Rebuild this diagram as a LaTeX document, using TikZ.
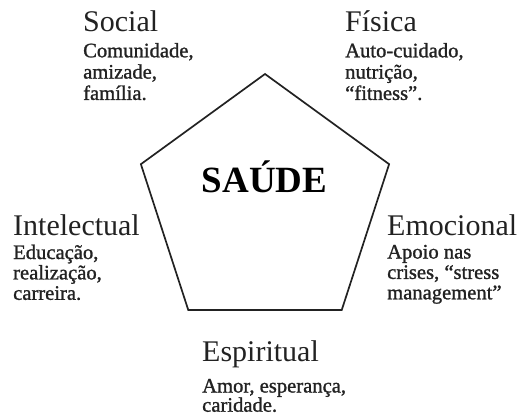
\documentclass[tikz,border=0pt]{standalone}
\usepackage{fontspec}
\setmainfont{Liberation Serif}
\newfontfamily\bodyfont{Liberation Serif}[RawFeature={embolden=1.2}]
\usetikzlibrary{calc}
\definecolor{ink}{HTML}{222222}
\begin{document}
\begin{tikzpicture}[x=1pt,y=-1pt,
  head/.style={anchor=base west,inner sep=0pt,text=ink,font=\fontsize{30}{32}\selectfont},
  body/.style={anchor=base west,inner sep=0pt,text=ink,font=\bodyfont\fontsize{20.6}{21.3}\selectfont},
  title/.style={anchor=base,inner sep=0pt,text=black,font=\fontsize{37}{40}\selectfont\bfseries}]
\useasboundingbox (0,0) rectangle (527,416);
\coordinate (c) at (265,204.5);
\draw[line width=1.7pt,ink,line join=miter]
  ($(c)+(-90:130.5)$) -- ($(c)+(-18:130.5)$) -- ($(c)+(54:130.5)$) --
  ($(c)+(126:130.5)$) -- ($(c)+(198:130.5)$) -- cycle;
\node[title] (saude) at (264.5,192.7) {SAÚDE};
\node[head] (social) at (83,31) {Social};
\node[body] (socialtxt) at (83,57.3) {\vtop{\hbox{Comunidade,}\hbox{amizade,}\hbox{família.}}};
\node[head] (fisica) at (345,31) {Física};
\node[body] (fisicatxt) at (345,57.3) {\vtop{\hbox{Auto-cuidado,}\hbox{nutrição,}\hbox{“fitness”.}}};
\node[head] (intel) at (13,235) {Intelectual};
\node[body,font=\bodyfont\fontsize{20.6}{20.4}\selectfont] (inteltxt) at (13,259) {\vtop{\hbox{Educação,}\hbox{realização,}\hbox{carreira.}}};
\node[head] (emoc) at (387,235) {Emocional};
\node[body,font=\bodyfont\fontsize{20.6}{20.4}\selectfont] (emoctxt) at (387,258.5) {\vtop{\hbox{Apoio nas}\hbox{crises, “stress}\hbox{management”}}};
\node[head] (espir) at (202,361.5) {Espiritual};
\node[body,font=\bodyfont\fontsize{20.6}{19.2}\selectfont] (espirtxt) at (202,392.5) {\vtop{\hbox{Amor, esperança,}\hbox{caridade.}}};
\end{tikzpicture}
\end{document}
